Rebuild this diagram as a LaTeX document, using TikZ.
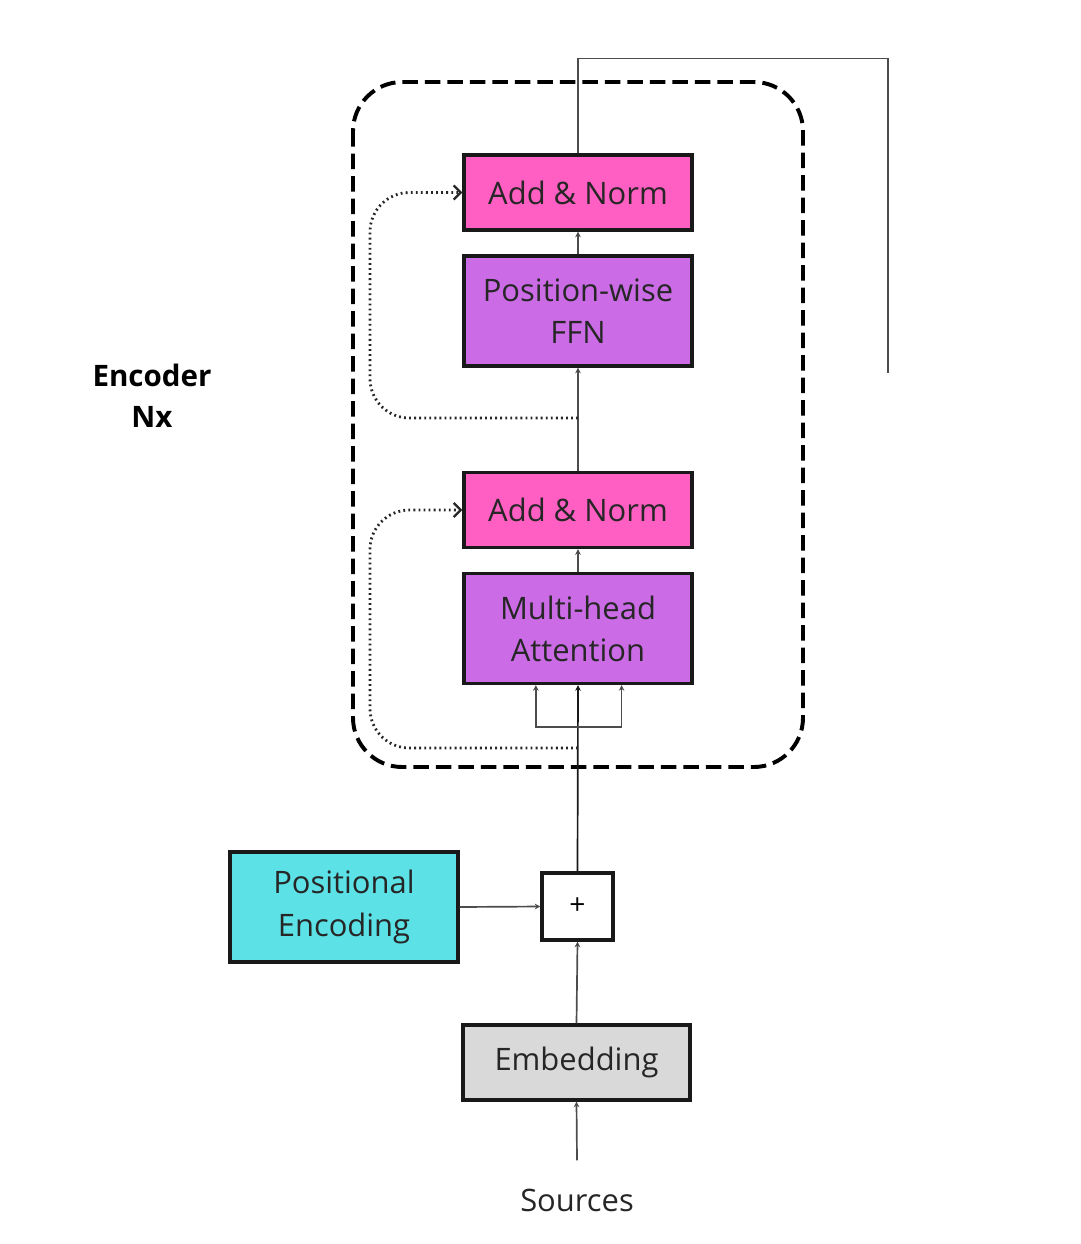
\documentclass[tikz,border=0pt]{standalone}
\usepackage{fontspec}
\setmainfont{Open Sans}
\usetikzlibrary{calc, positioning, arrows.meta}
\usepackage{xcolor}

\definecolor{normpink}{HTML}{FF5EC2}   % Add & Norm boxes
\definecolor{layerpurple}{HTML}{CB6CE6} % attention / FFN boxes
\definecolor{poscyan}{HTML}{5CE1E6}    % positional encoding
\definecolor{embgray}{HTML}{D9D9D9}    % embedding

\tikzset{
    block/.style={
        draw=black!90,
        line width=2.3pt,
        text=black!85,
        minimum width=5.7cm,    % 228px wide
        minimum height=1.875cm, % one-line box
        align=center,
        font=\fontsize{22}{30}\selectfont
    },
    addnorm/.style={block, fill=normpink},
    sublayer/.style={block, fill=layerpurple, minimum height=2.75cm},
    flow/.style={draw=black!70, line width=1.2pt, -{Stealth[length=4pt, width=4pt]}},
    skipline/.style={
        draw=black!85,
        line width=2pt,
        dash pattern=on 1.3pt off 2.3pt,
        rounded corners=28pt,
        -{Straight Barb[length=5pt, width=10pt, line width=1.6pt]}
    }
}

\begin{document}
\begin{tikzpicture}[x=0.025cm, y=-0.025cm]
    \useasboundingbox (0,0) rectangle (1080,1244);

    % the repeated encoder layer
    \draw[line width=2.8pt, dash pattern=on 11pt off 5pt, rounded corners=35pt]
        (353,82) rectangle (803,767);

    \node[addnorm] (an1) at (578,192.5) {Add \& Norm};
    \node[sublayer] (ffn) at (578,311) {Position-wise\\FFN};
    \node[addnorm] (an2) at (578,510) {Add \& Norm};
    \node[sublayer] (mha) at (578,628.5) {Multi-head\\Attention};

    % inputs
    \node[draw=black!90, line width=2.3pt, minimum width=1.775cm, minimum height=1.675cm,
        font=\fontsize{20}{20}\selectfont] (plus) at (577.5,906.5) {+};
    \node[block, fill=poscyan, minimum height=2.75cm] (pe) at (344,907) {Positional\\Encoding};
    \node[block, fill=embgray, minimum width=5.675cm] (emb) at (576.5,1062.5) {Embedding};
    \node[font=\fontsize{22}{30}\selectfont, text=black!85, inner ysep=20pt] (src) at (577,1200) {Sources};

    \node[font=\fontsize{21}{29}\selectfont\bfseries, align=center] (enc) at (152,396) {Encoder\\Nx};

    % helper points
    \coordinate (split) at (578,727);
    \coordinate (res1) at (578,748);
    \coordinate (res2) at (578,418);
    \coordinate (out) at (888,373);

    % main flow
    \draw[flow] (src.north) -- (emb.south);
    \draw[flow] (emb.north) -- (plus.south);
    \draw[flow] (pe.east) -- (plus.west);
    \draw[flow, draw=black!90] (plus.north) -- (mha.south);
    \draw[flow] (split) -| ([xshift=-30pt]mha.south);
    \draw[flow] (split) -| ([xshift=31pt]mha.south);
    \draw[flow] (mha.north) -- (an2.south);
    \draw[flow] (an2.north) -- (ffn.south);
    \draw[flow] (ffn.north) -- (an1.south);
    \draw[draw=black!70, line width=1.2pt] (an1.north) -- ++(0,-95) -| (out);

    % residual connections
    \draw[skipline] (res1) -| (370,610) |- (an2.west);
    \draw[skipline] (res2) -| (370,300) |- (an1.west);
\end{tikzpicture}
\end{document}
